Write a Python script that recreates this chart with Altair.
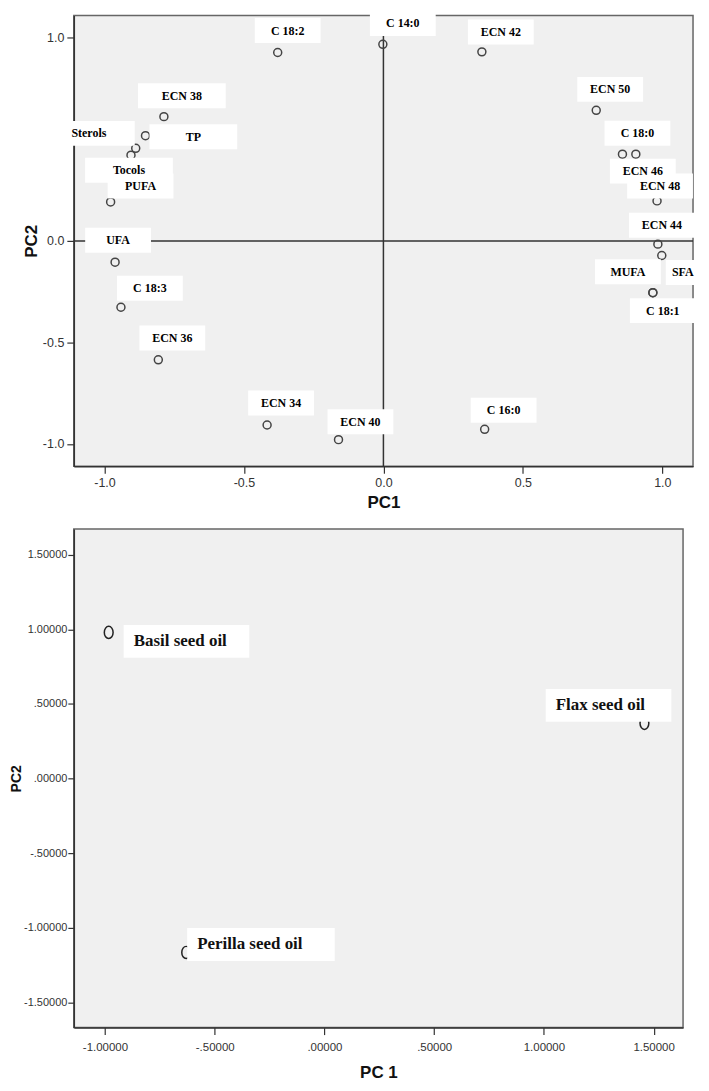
import altair as alt
import pandas as pd

# ---------------- data: loading plot (top panel) ----------------
load_labels = ["C 18:2", "C 14:0", "ECN 42", "ECN 50", "C 18:0", "ECN 46", "ECN 48",
               "ECN 44", "SFA", "MUFA", "C 18:1", "C 16:0", "ECN 40", "ECN 34",
               "ECN 36", "C 18:3", "UFA", "PUFA", "Tocols", "Sterols", "TP", "ECN 38"]
load_pc1 = [-0.379, -0.002, 0.353, 0.763, 0.857, 0.905, 0.981, 0.984, 0.998, 0.966,
            0.966, 0.363, -0.161, -0.417, -0.807, -0.941, -0.962, -0.978, -0.905,
            -0.888, -0.853, -0.787]
load_pc2 = [0.928, 0.968, 0.931, 0.643, 0.427, 0.427, 0.197, -0.016, -0.072, -0.255,
            -0.255, -0.928, -0.979, -0.907, -0.586, -0.327, -0.105, 0.192, 0.422,
            0.456, 0.518, 0.612]

# ---------------- data: score plot (bottom panel) ----------------
oil_labels = ["Basil seed oil", "Flax seed oil", "Perilla seed oil"]
oil_pc1 = [-0.983, 1.458, -0.630]
oil_pc2 = [0.979, 0.370, -1.164]

# axis tick values
top_ticks = [-1.0, -0.5, 0.0, 0.5, 1.0]
bot_xticks = [-1.0, -0.5, 0.0, 0.5, 1.0, 1.5]
bot_yticks = [-1.5, -1.0, -0.5, 0.0, 0.5, 1.0, 1.5]

# ---------------- style: label boxes (pixel offsets from their point) ----------------
load_box_dx = [10, 20, 19, 14, 15, 7, 3, 4, 21, -25, 10, 19, 22, 14, 14, 29, 3, 30, -2, -47, 48, 18]
load_box_dy = [-22, -21, -20, -21, -21, 17, -15, -19, 17, -21, 18, -19, -18, -22, -22, -19, -22, -16, 15, -15, 1, -21]
load_box_w = [66, 66, 66, 66, 66, 66, 66, 66, 34, 66, 66, 66, 66, 66, 66, 66, 66, 66, 88, 92, 88, 88]
LOAD_BOX_H = 25

oil_box_dx = [78, -36, 75]
oil_box_dy = [9, -18, -8]
oil_box_w = [126, 126, 148]
OIL_BOX_H = 33
OIL_TEXT_PAD = 10

# ---------------- layout ----------------
TOP_W, TOP_H = 621, 452
TOP_XD, TOP_YD = [-1.11, 1.11], [-1.11, 1.11]
BOT_W, BOT_H = 611, 500
BOT_XD, BOT_YD = [-1.142, 1.634], [-1.667, 1.671]

SANS = "Liberation Sans"
SERIF = "Liberation Serif"


def boxes(labels, px, py, dx, dy, w, h, xd, yd, W, H):
    kx = (xd[1] - xd[0]) / W
    ky = (yd[1] - yd[0]) / H
    df = pd.DataFrame({"label": labels, "pc1": px, "pc2": py,
                       "dx": dx, "dy": dy, "w": w})
    df["bx"] = df.pc1 + df.dx * kx
    df["by"] = df.pc2 - df.dy * ky
    df["x1"] = df.bx - df.w / 2 * kx
    df["x2"] = df.bx + df.w / 2 * kx
    df["y1"] = df.by - h / 2 * ky
    df["y2"] = df.by + h / 2 * ky
    df["tx"] = df.x1 + OIL_TEXT_PAD * kx
    return df


top_df = boxes(load_labels, load_pc1, load_pc2, load_box_dx, load_box_dy, load_box_w,
               LOAD_BOX_H, TOP_XD, TOP_YD, TOP_W, TOP_H)
bot_df = boxes(oil_labels, oil_pc1, oil_pc2, oil_box_dx, oil_box_dy, oil_box_w,
               OIL_BOX_H, BOT_XD, BOT_YD, BOT_W, BOT_H)

# ---------------- top panel ----------------
txs = alt.Scale(domain=TOP_XD, nice=False, zero=False)
tys = alt.Scale(domain=TOP_YD, nice=False, zero=False)
top_fmt = "(datum.value < 0 ? '-' : '') + format(abs(datum.value), '.1f')"
top_xaxis = alt.Axis(title="PC1", values=top_ticks, labelExpr=top_fmt, tickSize=7,
                     labelPadding=3, titlePadding=6, labelFontSize=12.5, titleFontSize=17)
top_yaxis = alt.Axis(title="PC2", values=top_ticks, labelExpr=top_fmt, tickSize=7,
                     labelPadding=3, titlePadding=2, labelFontSize=12.5, titleFontSize=17)
zero_df = pd.DataFrame({"v": [0.0]})

top_vline = alt.Chart(zero_df).mark_rule(color="#333", strokeWidth=1.5).encode(
    x=alt.X("v:Q", scale=txs, axis=top_xaxis))
top_hline = alt.Chart(zero_df).mark_rule(color="#333", strokeWidth=1.5).encode(
    y=alt.Y("v:Q", scale=tys, axis=top_yaxis))

top_points = alt.Chart(top_df).mark_point(
    shape="circle", size=64, filled=False, stroke="#444", strokeWidth=1.5, opacity=1
).encode(
    x=alt.X("pc1:Q", scale=txs, axis=top_xaxis),
    y=alt.Y("pc2:Q", scale=tys, axis=top_yaxis),
)
top_boxes = alt.Chart(top_df).mark_rect(fill="white", strokeWidth=0).encode(
    x=alt.X("x1:Q", scale=txs, axis=top_xaxis), x2="x2:Q",
    y=alt.Y("y1:Q", scale=tys, axis=top_yaxis), y2="y2:Q")
top_text = alt.Chart(top_df).mark_text(
    font=SERIF, fontWeight="bold", fontSize=12, color="#000",
    align="center", baseline="middle"
).encode(
    x=alt.X("bx:Q", scale=txs, axis=top_xaxis),
    y=alt.Y("by:Q", scale=tys, axis=top_yaxis),
    text="label:N")

top = alt.layer(top_vline, top_hline, top_points, top_boxes, top_text).properties(
    width=TOP_W, height=TOP_H)

# ---------------- bottom panel ----------------
bxs = alt.Scale(domain=BOT_XD, nice=False, zero=False)
bys = alt.Scale(domain=BOT_YD, nice=False, zero=False)
spss_fmt = ("(datum.value < 0 ? '-' : '') + (abs(datum.value) < 1 ? "
            "substring(format(abs(datum.value), '.5f'), 1) : format(abs(datum.value), '.5f'))")
bot_xaxis = alt.Axis(title="PC 1", values=bot_xticks, labelExpr=spss_fmt, tickSize=7,
                     labelPadding=7, titlePadding=12, labelFontSize=11.5, titleFontSize=17)
bot_yaxis = alt.Axis(title="PC2", values=bot_yticks, labelExpr=spss_fmt, tickSize=6,
                     labelPadding=1, titlePadding=0, labelFontSize=11, titleFontSize=14)
ellipse = "M0,-1A0.72,1,0,1,1,0,1A0.72,1,0,1,1,0,-1Z"

bot_points = alt.Chart(bot_df).mark_point(
    shape=ellipse, size=150, filled=False, stroke="#222", strokeWidth=1.5, opacity=1
).encode(
    x=alt.X("pc1:Q", scale=bxs, axis=bot_xaxis),
    y=alt.Y("pc2:Q", scale=bys, axis=bot_yaxis),
)
bot_boxes = alt.Chart(bot_df).mark_rect(fill="white", strokeWidth=0).encode(
    x=alt.X("x1:Q", scale=bxs, axis=bot_xaxis), x2="x2:Q",
    y=alt.Y("y1:Q", scale=bys, axis=bot_yaxis), y2="y2:Q")
bot_text = alt.Chart(bot_df).mark_text(
    font=SERIF, fontWeight="bold", fontSize=17, color="#111",
    align="left", baseline="middle"
).encode(
    x=alt.X("tx:Q", scale=bxs, axis=bot_xaxis),
    y=alt.Y("by:Q", scale=bys, axis=bot_yaxis),
    text="label:N")

bottom = alt.layer(bot_points, bot_boxes, bot_text).properties(width=BOT_W, height=BOT_H)

chart = alt.vconcat(top, bottom, spacing=16).properties(
    padding=0, background="white"
).configure_view(
    fill="#f0f0f0", stroke="#666", strokeWidth=1.5
).configure_axis(
    grid=False, labelFont=SANS, labelColor="#333", titleFont=SANS, titleColor="#111",
    titleFontWeight="bold", domainColor="#333", domainWidth=1.5, tickColor="#333",
    tickWidth=1.2, labelFlush=False, labelOverlap=False
)

chart.save("out.html", embed_options={"renderer": "svg", "actions": False})
